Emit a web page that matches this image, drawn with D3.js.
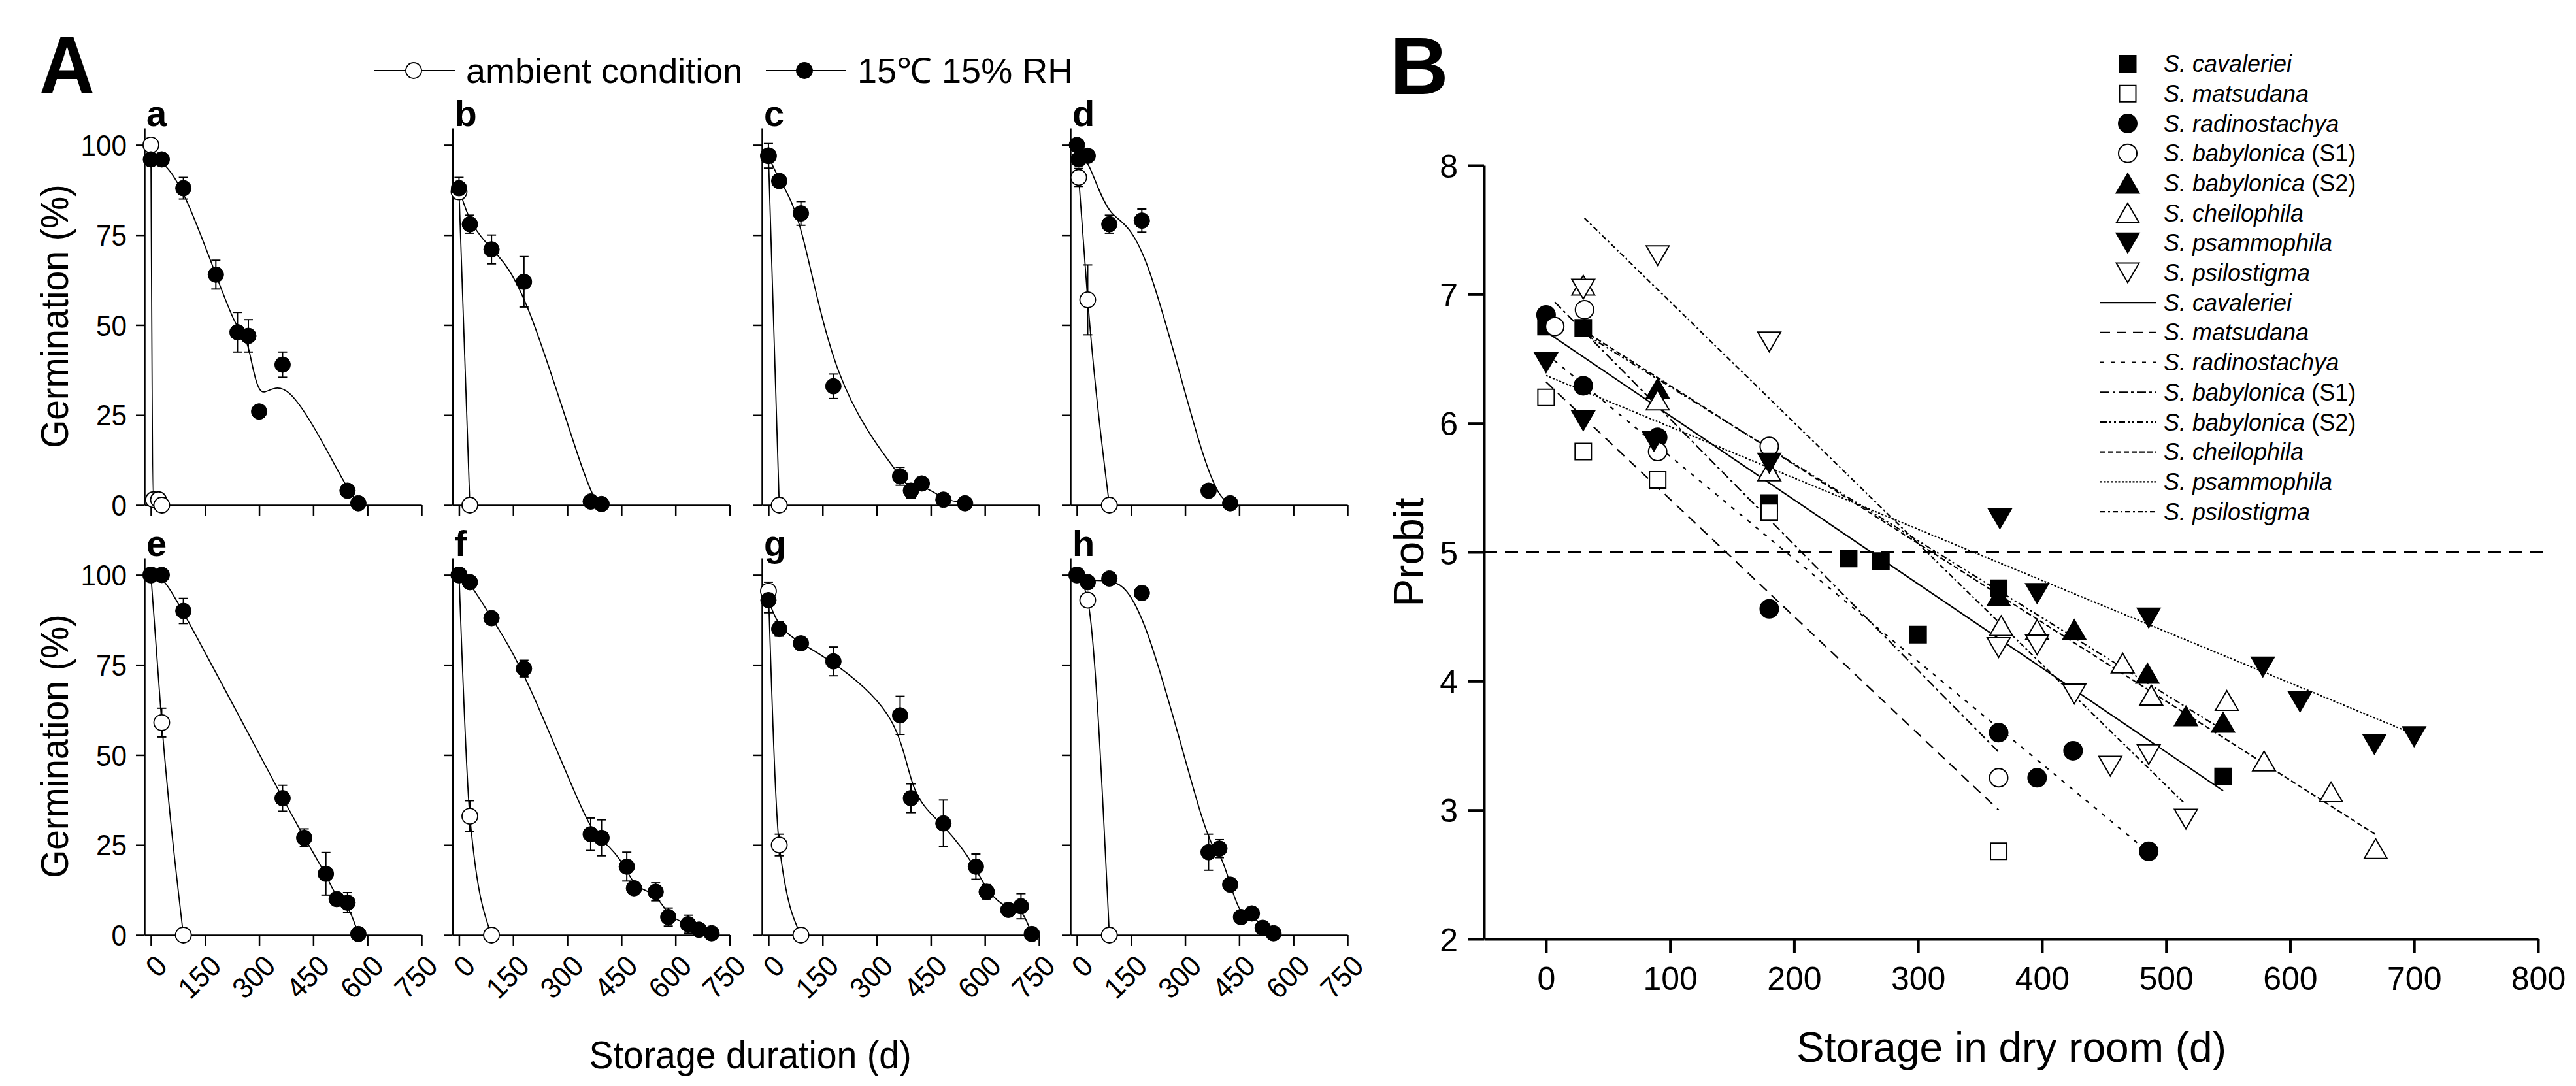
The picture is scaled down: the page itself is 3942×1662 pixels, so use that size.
<!DOCTYPE html>
<html>
<head>
<meta charset="utf-8">
<script src="https://cdn.jsdelivr.net/npm/d3@7"></script>
<style>
  body { margin: 0; background: #fff; }
  svg { display: block; }
  text { font-family: "Liberation Sans", Arial, sans-serif; fill: #000; }
</style>
</head>
<body>
<svg id="chart"></svg>
<script>
// ---------- Panel A data (germination %, one list per sub-panel a..h) ----------
const panelLabels = ['a', 'b', 'c', 'd', 'e', 'f', 'g', 'h'];
const storageTicks = [0, 150, 300, 450, 600, 750];
const germTicks = [0, 25, 50, 75, 100];

// 15 C 15% RH (filled circles)
const dryDays = [
  [0, 30, 90, 180, 240, 270, 300, 365, 545, 575],
  [0, 30, 90, 180, 365, 395],
  [0, 30, 90, 180, 365, 395, 425, 485, 545],
  [0, 5, 30, 90, 180, 365, 425],
  [0, 30, 90, 365, 425, 485, 515, 545, 575],
  [0, 30, 90, 180, 365, 395, 465, 485, 545, 580, 635, 665, 700],
  [0, 30, 90, 180, 365, 395, 485, 575, 605, 665, 700, 730],
  [0, 30, 90, 180, 365, 395, 425, 455, 485, 515, 545]
];
const dryGerm = [
  [96, 96, 88, 64, 48, 47, 26, 39, 4, 0.5],
  [88, 78, 71, 62, 1, 0.3],
  [97, 90, 81, 33, 8, 4, 6, 1.5, 0.5],
  [100, 96, 97, 78, 79, 4, 0.5],
  [100, 100, 90, 38, 27, 17, 10, 9, 0.3],
  [100, 98, 88, 74, 28, 27, 19, 13, 12, 5, 3, 1.5, 0.5],
  [93, 85, 81, 76, 61, 38, 31, 19, 12, 7, 8, 0.3],
  [100, 98, 99, 95, 23, 24, 14, 5, 6, 2, 0.5]
];
const dryErr = [
  [0, 0, 3, 4, 5.5, 4.5, 0, 3.5, 0, 0],
  [3, 2.5, 4, 7, 0, 0],
  [3.4, 0, 3.3, 3.4, 2.5, 2, 0, 0, 0],
  [0, 0, 0, 2.5, 3.2, 0, 0],
  [0, 0, 3.5, 3.6, 2.5, 5.9, 0, 2.8, 0],
  [0, 0, 0, 2.3, 4.5, 5, 4, 0, 2.5, 2.5, 2.5, 0, 0],
  [3.5, 2, 1.5, 4, 5.3, 4, 6.5, 3.5, 2, 0, 3.5, 0],
  [0, 0, 0, 0, 5, 2.5, 0, 0, 0, 0, 0]
];

// ambient condition (open circles)
const ambDays = [[0, 7, 21, 30], [0, 30], [0, 30], [5, 30, 90], [0, 30, 90], [0, 30, 90], [0, 30, 90], [0, 30, 90]];
const ambGerm = [[100, 1.5, 1.5, 0], [87, 0], [97, 0], [91, 57, 0], [100, 59, 0], [100, 33, 0], [95.5, 25, 0], [100, 93, 0]];
const ambErr  = [[0, 0, 0, 0], [0, 0], [0, 0], [2.5, 9.7, 0], [0, 4, 0], [0, 4.3, 0], [2.5, 3, 0], [0, 0, 0]];

// ---------- Panel B data (probit vs storage in dry room) ----------
const speciesNames = ['S. cavaleriei', 'S. matsudana', 'S. radinostachya', 'S. babylonica', 'S. babylonica', 'S. cheilophila', 'S. psammophila', 'S. psilostigma'];
const speciesNotes = ['', '', '', ' (S1)', ' (S2)', '', '', ''];
const dryRoomTicks = [0, 100, 200, 300, 400, 500, 600, 700, 800];
const probitTicks = [2, 3, 4, 5, 6, 7, 8];

const probitDays = [
  [0, 30, 180, 244, 270, 300, 365, 546],
  [0, 30, 90, 180, 365],
  [0, 30, 90, 180, 365, 396, 425, 486],
  [7, 31, 90, 180, 365],
  [90, 365, 426, 485, 516, 546],
  [30, 90, 180, 367, 396, 465, 488, 549, 579, 633, 669],
  [0, 30, 87, 180, 366, 396, 486, 578, 608, 668, 700],
  [30, 90, 180, 365, 396, 426, 455, 486, 516]
];
const probitVals = [
  [6.75, 6.74, 5.38, 4.95, 4.93, 4.36, 4.72, 3.26],
  [6.20, 5.78, 5.56, 5.31, 2.68],
  [6.84, 6.29, 5.89, 4.56, 3.60, 3.25, 3.46, 2.68],
  [6.75, 6.88, 5.78, 5.82, 3.25],
  [6.27, 4.66, 4.40, 4.06, 3.73, 3.68],
  [7.07, 6.18, 5.63, 4.43, 4.40, 4.14, 3.89, 3.85, 3.38, 3.14, 2.70],
  [6.47, 6.02, 5.86, 5.69, 5.26, 4.68, 4.49, 4.11, 3.84, 3.51, 3.57],
  [7.04, 7.30, 6.63, 4.26, 4.28, 3.90, 3.34, 3.43, 2.93]
];
// regression lines: [start day, end day] and [start probit, end probit]
const fitDays = [[0, 546], [0, 365], [0, 480], [7, 365], [30, 546], [30, 669], [0, 692], [31, 514]];
const fitProbit = [[6.71, 3.15], [6.32, 3.00], [6.54, 2.72], [6.94, 3.45], [6.70, 3.62], [6.72, 2.81], [6.37, 3.62], [7.59, 3.06]];
const criticalProbit = 5;

// ---------- drawing ----------
const W = 3942, H = 1662;
const svg = d3.select('#chart').attr('width', W).attr('height', H).attr('viewBox', `0 0 ${W} ${H}`);
svg.append('rect').attr('width', W).attr('height', H).attr('fill', '#fff');

// panel A layout
const colX = [221, 692.5, 1166, 1638];
const rowY0 = [773, 1431];
const narrow = 'scale(0.94,1)';

svg.append('text')
  .attr('transform', 'translate(60,143) scale(0.95,1)')
  .attr('font-size', 124).attr('font-weight', 'bold').text('A');

panelLabels.forEach((lab, i) => {
  const col = i % 4, row = Math.floor(i / 4);
  const ax = colX[col], y0 = rowY0[row];

  const x = d3.scaleLinear().domain([-18, 750]).range([ax, ax + 424]);
  const y = d3.scaleLinear().domain([0, 104.7]).range([y0, y0 - 577]);
  const g = svg.append('g');

  // x axis
  const xa = g.append('g')
    .attr('transform', `translate(0,${y0})`)
    .call(d3.axisBottom(x).tickValues(storageTicks).tickSize(16).tickSizeOuter(0)
      .tickFormat(row === 1 ? d3.format('d') : () => ''));
  xa.attr('font-size', 45);
  xa.selectAll('path, line').attr('stroke-width', 2.5);
  xa.selectAll('text')
    .attr('x', 0).attr('y', 0).attr('dy', 0)
    .attr('text-anchor', 'end')
    .attr('transform', `translate(27,50) rotate(-45) ${narrow}`);

  // y axis
  const ya = g.append('g')
    .attr('transform', `translate(${ax},0)`)
    .call(d3.axisLeft(y).tickValues(germTicks).tickSize(13).tickSizeOuter(0)
      .tickFormat(col === 0 ? d3.format('d') : () => ''));
  ya.attr('font-size', 45);
  ya.selectAll('path, line').attr('stroke-width', 2.5);
  ya.selectAll('text')
    .attr('x', 0).attr('dy', '0.35em')
    .attr('transform', `translate(-27,0) ${narrow}`);

  // sub-panel letter
  g.append('text')
    .attr('x', ax + 3).attr('y', y0 - 580)
    .attr('font-size', 56).attr('font-weight', 'bold')
    .text(lab);

  const amb = d3.zip(ambDays[i], ambGerm[i], ambErr[i]);
  const dry = d3.zip(dryDays[i], dryGerm[i], dryErr[i]);

  // curves
  g.append('path').datum(amb)
    .attr('d', d3.line().x(d => x(d[0])).y(d => y(d[1])).curve(d3.curveMonotoneX))
    .attr('fill', 'none').attr('stroke', '#000').attr('stroke-width', 1.8);
  g.append('path').datum(dry)
    .attr('d', d3.line().x(d => x(d[0])).y(d => y(d[1])).curve(d3.curveBasis))
    .attr('fill', 'none').attr('stroke', '#000').attr('stroke-width', 1.8);

  // error bars
  [amb, dry].forEach(series => {
    series.filter(d => d[2] > 0).forEach(d => {
      const cx = x(d[0]);
      g.append('line').attr('x1', cx).attr('x2', cx)
        .attr('y1', y(d[1] - d[2])).attr('y2', y(d[1] + d[2]))
        .attr('stroke', '#000').attr('stroke-width', 2);
      [d[1] - d[2], d[1] + d[2]].forEach(v => {
        g.append('line').attr('x1', cx - 7).attr('x2', cx + 7)
          .attr('y1', y(v)).attr('y2', y(v))
          .attr('stroke', '#000').attr('stroke-width', 2);
      });
    });
  });

  // markers (open first, filled on top)
  g.selectAll('.amb').data(amb).enter().append('circle')
    .attr('cx', d => x(d[0])).attr('cy', d => y(d[1])).attr('r', 12)
    .attr('fill', '#fff').attr('stroke', '#000').attr('stroke-width', 1.8);
  g.selectAll('.dry').data(dry).enter().append('circle')
    .attr('cx', d => x(d[0])).attr('cy', d => y(d[1])).attr('r', 12)
    .attr('fill', '#000').attr('stroke', '#000').attr('stroke-width', 1);
});

// panel A axis titles
svg.append('text')
  .attr('transform', `translate(1148,1635) ${narrow}`)
  .attr('text-anchor', 'middle').attr('font-size', 59)
  .text('Storage duration (d)');
rowY0.forEach(y0 => {
  svg.append('text')
    .attr('transform', `translate(104,${y0 - 289}) rotate(-90) ${narrow}`)
    .attr('text-anchor', 'middle').attr('font-size', 59)
    .text('Germination (%)');
});

// panel A legend
const legA = [
  { x1: 573, x2: 697, cx: 633, fill: '#fff', tx: 713, label: 'ambient condition' },
  { x1: 1172, x2: 1295, cx: 1231, fill: '#000', tx: 1312, label: '15℃ 15% RH' }
];
legA.forEach(l => {
  svg.append('line').attr('x1', l.x1).attr('x2', l.x2).attr('y1', 108).attr('y2', 108)
    .attr('stroke', '#000').attr('stroke-width', 1.8);
  svg.append('circle').attr('cx', l.cx).attr('cy', 108).attr('r', 12)
    .attr('fill', l.fill).attr('stroke', '#000').attr('stroke-width', 1.8);
  svg.append('text').attr('x', l.tx).attr('y', 127).attr('font-size', 54).text(l.label);
});

// ---------- Panel B ----------
const xB = d3.scaleLinear().domain([-50, 800]).range([2271, 3884]);
const yB = d3.scaleLinear().domain([2, 8]).range([1437, 253]);

svg.append('text')
  .attr('x', 2127).attr('y', 144)
  .attr('font-size', 124).attr('font-weight', 'bold').text('B');

const gB = svg.append('g');

const xaB = gB.append('g').attr('transform', `translate(0,${yB(2)})`)
  .call(d3.axisBottom(xB).tickValues(dryRoomTicks).tickSize(22).tickSizeOuter(0).tickPadding(20)
    .tickFormat(d3.format('d')));
xaB.attr('font-size', 50);
xaB.selectAll('path, line').attr('stroke-width', 4);

const yaB = gB.append('g').attr('transform', `translate(${xB(-50)},0)`)
  .call(d3.axisLeft(yB).tickValues(probitTicks).tickSize(24).tickSizeOuter(0).tickPadding(16)
    .tickFormat(d3.format('d')));
yaB.attr('font-size', 50);
yaB.selectAll('path, line').attr('stroke-width', 4);
yaB.selectAll('text').attr('dy', '0.36em');

svg.append('text')
  .attr('x', 3078).attr('y', 1625).attr('text-anchor', 'middle')
  .attr('font-size', 64).text('Storage in dry room (d)');
svg.append('text')
  .attr('transform', `translate(2178,${yB(5)}) rotate(-90)`)
  .attr('text-anchor', 'middle').attr('font-size', 64).text('Probit');

// reference line at probit 5
gB.append('line')
  .attr('x1', xB(-50)).attr('x2', xB(807))
  .attr('y1', yB(criticalProbit)).attr('y2', yB(criticalProbit))
  .attr('stroke', '#000').attr('stroke-width', 2.5).attr('stroke-dasharray', '20,12');

// marker and line styles per species
const markerShape = ['square', 'square', 'circle', 'circle', 'up', 'up', 'down', 'down'];
const markerFill = ['#000', '#fff', '#000', '#fff', '#000', '#fff', '#000', '#fff'];
const lineDash = [null, '15,10', '6,10', '14,5,4,5', '10,4,3,4,3,4', '8,4', '3,2.5', '8,4,3,4'];

function shapePath(shape) {
  if (shape === 'square') return 'M-12.5,-12.5H12.5V12.5H-12.5Z';
  if (shape === 'circle') return 'M14,0A14,14 0 1,1 -14,0A14,14 0 1,1 14,0Z';
  if (shape === 'up') return 'M0,-15L17.5,15L-17.5,15Z';
  return 'M0,15L17.5,-15L-17.5,-15Z';
}

// regression lines
speciesNames.forEach((s, i) => {
  gB.append('line')
    .attr('x1', xB(fitDays[i][0])).attr('y1', yB(fitProbit[i][0]))
    .attr('x2', xB(fitDays[i][1])).attr('y2', yB(fitProbit[i][1]))
    .attr('stroke', '#000').attr('stroke-width', 2.2)
    .attr('stroke-dasharray', lineDash[i]);
});

// points
speciesNames.forEach((s, i) => {
  gB.selectAll(null).data(d3.zip(probitDays[i], probitVals[i])).enter().append('path')
    .attr('d', shapePath(markerShape[i]))
    .attr('transform', d => `translate(${xB(d[0])},${yB(d[1])})`)
    .attr('fill', markerFill[i]).attr('stroke', '#000').attr('stroke-width', 2);
});

// legend B
const legTop = 97.6, legStep = 45.7;
function legendText(yy, i) {
  const t = svg.append('text').attr('x', 3311).attr('y', yy + 12.5).attr('font-size', 36);
  t.append('tspan').attr('font-style', 'italic').text(speciesNames[i]);
  if (speciesNotes[i]) t.append('tspan').text(speciesNotes[i]);
}
speciesNames.forEach((s, i) => {
  const yy = legTop + i * legStep;
  svg.append('path').attr('d', shapePath(markerShape[i]))
    .attr('transform', `translate(3256,${yy})`)
    .attr('fill', markerFill[i]).attr('stroke', '#000').attr('stroke-width', 2);
  legendText(yy, i);
});
speciesNames.forEach((s, i) => {
  const yy = legTop + (i + 8) * legStep;
  svg.append('line').attr('x1', 3214).attr('x2', 3299).attr('y1', yy).attr('y2', yy)
    .attr('stroke', '#000').attr('stroke-width', 2.2).attr('stroke-dasharray', lineDash[i]);
  legendText(yy, i);
});
</script>
</body>
</html>
